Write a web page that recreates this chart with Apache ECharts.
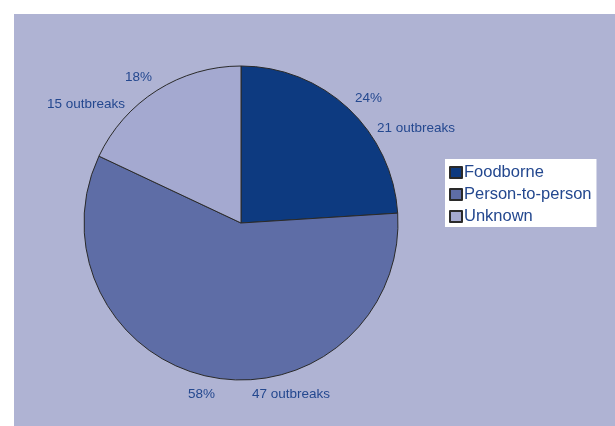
<!DOCTYPE html>
<html><head><meta charset="utf-8">
<script src="https://cdn.jsdelivr.net/npm/echarts@6/dist/echarts.min.js"></script>
<style>html,body{margin:0;padding:0;background:#fff}#c{width:615px;height:426px}</style>
</head><body><div id="c"></div>
<script>
const categories = ['Foodborne', 'Person-to-person', 'Unknown'];
const percents = [24, 58, 18];
const outbreaks = [21, 47, 15];
const colors = ['#0D3A80', '#5E6DA6', '#A4A9D0'];

const labelPos = [
  {x: 355, y: 83, align: 'left', verticalAlign: 'top'},
  {x: 188, y: 394, align: 'left', verticalAlign: 'middle'},
  {x: 152, y: 64, align: 'right', verticalAlign: 'top'}
];

const chart = echarts.init(document.getElementById('c'));
const txt = '#24488F';
const fs = 13.5;
chart.setOption({
  animation: false,
  backgroundColor: '#fff',
  graphic: [{type: 'rect', left: 14, top: 14, shape: {width: 601, height: 412}, style: {fill: '#AFB3D3'}, z: -10, silent: true}],
  legend: {
    orient: 'vertical', left: 445, top: 159,
    backgroundColor: '#fff', padding: [5, 5, 2, 4],
    itemWidth: 12, itemHeight: 11, itemGap: 5,
    icon: 'rect',
    textStyle: {fontFamily: 'Liberation Sans', fontSize: 16.5, color: txt, padding: [0, 0, 0, -3]},
    data: categories
  },
  series: [{
    type: 'pie',
    center: [241, 223], radius: 157,
    startAngle: 90, clockwise: true,
    itemStyle: {borderColor: '#2a2a2a', borderWidth: 1},
    emphasis: {disabled: true},
    labelLine: {show: false},
    label: {
      show: true, position: 'outside',
      fontFamily: 'Liberation Sans', fontSize: fs, color: txt,
      formatter: function (p) {
        const i = p.dataIndex;
        if (i === 0) return '{p0|' + percents[i] + '%}\n{o0|' + outbreaks[i] + ' outbreaks}';
        if (i === 2) return '{p2|' + percents[i] + '%}\n{o2|' + outbreaks[i] + ' outbreaks}';
        return '{p1|' + percents[i] + '%}{o1|' + outbreaks[i] + ' outbreaks}';
      },
      rich: {
        p0: {fontFamily: 'Liberation Sans', fontSize: fs, color: txt, lineHeight: 30},
        o0: {fontFamily: 'Liberation Sans', fontSize: fs, color: txt, lineHeight: 30, padding: [0, 0, 0, 22]},
        p2: {fontFamily: 'Liberation Sans', fontSize: fs, color: txt, lineHeight: 27},
        o2: {fontFamily: 'Liberation Sans', fontSize: fs, color: txt, lineHeight: 27, padding: [0, 27, 0, 0]},
        p1: {fontFamily: 'Liberation Sans', fontSize: fs, color: txt},
        o1: {fontFamily: 'Liberation Sans', fontSize: fs, color: txt, padding: [0, 0, 0, 37]}
      }
    },
    labelLayout: function (params) { return labelPos[params.dataIndex]; },
    data: categories.map((c, i) => ({name: c, value: percents[i], itemStyle: {color: colors[i]}}))
  }]
});
</script></body></html>
